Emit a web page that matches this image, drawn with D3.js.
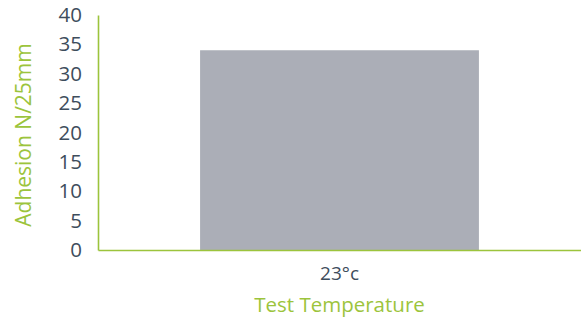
<!DOCTYPE html>
<html>
<head>
<meta charset="utf-8">
<script src="https://cdn.jsdelivr.net/npm/d3@7"></script>
<style>
  body { margin: 0; background: #fff; }
  svg { display: block; }
  .tick text { font-family: "Open Sans", "Noto Sans", sans-serif; }
</style>
</head>
<body>
<div id="chart"></div>
<script>
// данные
const categories = ["23°c"];
const adhesion = [34];
const yTicks = [0, 5, 10, 15, 20, 25, 30, 35, 40];

const width = 581;
const height = 317;
const margin = { top: 15, right: 0, bottom: 67, left: 98 };

const green = "#9cc43c";
const textColor = "#3e4d5c";

const svg = d3.select("#chart")
    .append("svg")
    .attr("width", width)
    .attr("height", height);

const x = d3.scaleBand()
    .domain(categories)
    .range([margin.left, width - margin.right])
    .padding(0.268);

const y = d3.scaleLinear()
    .domain([0, 40])
    .range([height - margin.bottom, margin.top]);

// bars
svg.append("g")
    .selectAll("rect")
    .data(adhesion)
    .join("rect")
    .attr("x", (d, i) => x(categories[i]))
    .attr("y", d => y(d))
    .attr("width", x.bandwidth())
    .attr("height", d => y(0) - y(d))
    .attr("fill", "#abaeb7");

// Y axis
svg.append("g")
    .attr("transform", `translate(${margin.left},0)`)
    .call(d3.axisLeft(y).tickValues(yTicks).tickSize(0).tickPadding(16))
    .call(g => g.select(".domain").attr("stroke", green).attr("stroke-width", 1.6))
    .call(g => g.selectAll(".tick text")
        .attr("fill", textColor)
        .attr("font-size", 20.5));

// X axis
svg.append("g")
    .attr("transform", `translate(0,${y(0)})`)
    .call(d3.axisBottom(x).tickSize(0).tickPadding(17))
    .call(g => g.select(".domain").attr("stroke", green).attr("stroke-width", 1.6))
    .call(g => g.selectAll(".tick text")
        .attr("fill", textColor)
        .attr("font-size", 19));

// titles
svg.append("text")
    .attr("x", x(categories[0]) + x.bandwidth() / 2)
    .attr("y", 312)
    .attr("text-anchor", "middle")
    .attr("fill", green)
    .attr("font-family", "'Open Sans', 'Noto Sans', sans-serif")
    .attr("font-size", 20.5)
    .text("Test Temperature");

svg.append("text")
    .attr("transform", `translate(31,135) rotate(-90)`)
    .attr("text-anchor", "middle")
    .attr("fill", green)
    .attr("font-family", "'Open Sans', 'Noto Sans', sans-serif")
    .attr("font-size", 21)
    .text("Adhesion N/25mm");
</script>
</body>
</html>
